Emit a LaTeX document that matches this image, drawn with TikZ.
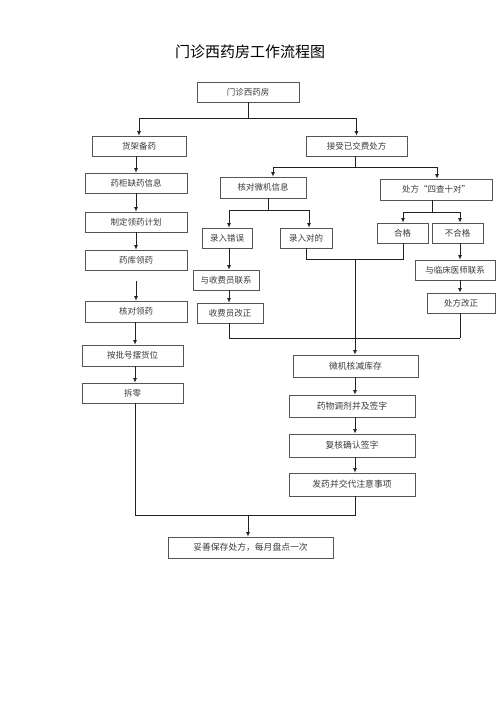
\documentclass[tikz,border=0pt]{standalone}
\usepackage{fontspec}
\setmainfont{Noto Sans CJK SC}
\usetikzlibrary{arrows.meta}
\definecolor{boxline}{HTML}{555555}
\definecolor{txt}{HTML}{3A3A3A}
\definecolor{conn}{HTML}{222222}
\tikzset{
  box/.style={draw=boxline, line width=0.8pt, fill=white, inner sep=0pt,
    minimum height=20pt, text=txt, font=\fontsize{8.5}{10}\selectfont},
  ln/.style={draw=conn, line width=0.8pt},
  arr/.style={ln, -{Latex[length=4.5pt,width=4pt]}},
}
\begin{document}
\begin{tikzpicture}[x=1pt,y=-1pt]
\useasboundingbox[fill=white] (0,0) rectangle (500,707);
\node[text=black, font=\fontsize{15}{18}\selectfont] (title) at (250,52) {门诊西药房工作流程图};

% top
\node[box, minimum width=102pt] (top) at (248,92) {门诊西药房};
\node[box, minimum width=94pt] (shelf) at (139,146) {货架备药};
\node[box, minimum width=101pt] (recv) at (356.5,146) {接受已交费处方};

% left column
\node[box, minimum width=102pt] (lack) at (136,183) {药柜缺药信息};
\node[box, minimum width=102pt] (plan) at (136,222) {制定领药计划};
\node[box, minimum width=102pt] (store) at (136,260) {药库领药};
\node[box, minimum width=102pt, minimum height=21pt] (check) at (136,311.5) {核对领药};
\node[box, minimum width=101pt, minimum height=21pt] (bat) at (132.5,355.5) {按批号摆货位};
\node[box, minimum width=101pt] (split) at (132.5,393) {拆零};

% middle branch
\node[box, minimum width=86pt, minimum height=21pt] (verify) at (263,187.5) {核对微机信息};
\node[box, minimum width=50pt] (err) at (227,238) {录入错误};
\node[box, minimum width=52pt] (ok) at (306,238) {录入对的};
\node[box, minimum width=66pt] (contactC) at (226,280) {与收费员联系};
\node[box, minimum width=66pt] (fixC) at (230,313) {收费员改正};

% right branch
\node[box, minimum width=112pt, minimum height=21pt] (four) at (436,189.5) {处方“四查十对”};
\node[box, minimum width=51pt] (pass) at (402.5,233) {合格};
\node[box, minimum width=51pt] (fail) at (457.5,233) {不合格};
\node[box, minimum width=80pt] (contactD) at (455,270) {与临床医师联系};
\node[box, minimum width=68pt] (fixD) at (461,303) {处方改正};

% lower chain
\node[box, minimum width=125pt, minimum height=22pt, font=\fontsize{8.8}{10}\selectfont] (mc) at (355.5,366) {微机核减库存};
\node[box, minimum width=126pt, minimum height=22pt, font=\fontsize{8.8}{10}\selectfont] (disp) at (352,406) {药物调剂并及签字};
\node[box, minimum width=126pt, minimum height=23pt, font=\fontsize{8.8}{10}\selectfont] (rechk) at (352,445.5) {复核确认签字};
\node[box, minimum width=126pt, minimum height=23pt, font=\fontsize{8.8}{10}\selectfont] (give) at (352,484.5) {发药并交代注意事项};
\node[box, minimum width=165pt, minimum height=21pt, font=\fontsize{8.8}{10}\selectfont] (final) at (250.5,547.5) {妥善保存处方，每月盘点一次};

% coordinates
\coordinate (j1) at (248,118);
\coordinate (mx) at (355,0);
\coordinate (lx) at (135,0);
\coordinate (j2) at (355,167);
\coordinate (j2l) at (273,167);
\coordinate (j2r) at (437,167);
\coordinate (j3) at (268,210);
\coordinate (j3l) at (229,210);
\coordinate (j3r) at (309,210);
\coordinate (j4) at (432,212);
\coordinate (j4l) at (403,212);
\coordinate (j4r) at (460,212);
\coordinate (okd) at (306,259);
\coordinate (pj) at (355,259);
\coordinate (cl) at (229,338);
\coordinate (cr) at (460,338);
\coordinate (bl) at (135,515);
\coordinate (br) at (355,515);
\coordinate (bm) at (248,515);
\coordinate (gapA) at (136,281);

% top split
\draw[ln] (top.south) -- (j1);
\draw[arr] (j1) -| (shelf.north);
\draw[arr] (j1) -| (recv.north);

% left column
\draw[arr] (shelf.south -| lack.north) -- (lack.north);
\draw[arr] (lack.south) -- (plan.north);
\draw[arr] (plan.south) -- (store.north);
\draw[arr] (gapA) -- (check.north);
\draw[arr] (lx |- check.south) -- (lx |- bat.north);
\draw[arr] (lx |- bat.south) -- (lx |- split.north);
\draw[ln] (lx |- split.south) -- (bl);

% receive split
\draw[ln] (mx |- recv.south) -- (j2);
\draw[arr] (j2) -- (j2l) -- (j2l |- verify.north);
\draw[arr] (j2) -- (j2r) -- (j2r |- four.north);

% verify split
\draw[ln] (j3 |- verify.south) -- (j3);
\draw[arr] (j3) -- (j3l) -- (j3l |- err.north);
\draw[arr] (j3) -- (j3r) -- (j3r |- ok.north);
\draw[arr] (j3l |- err.south) -- (j3l |- contactC.north);
\draw[arr] (j3l |- contactC.south) -- (j3l |- fixC.north);
\draw[ln] (cl |- fixC.south) -- (cl) -- (cr);

% four split
\draw[ln] (j4 |- four.south) -- (j4);
\draw[arr] (j4) -- (j4l) -- (j4l |- pass.north);
\draw[arr] (j4) -- (j4r) -- (j4r |- fail.north);
\draw[arr] (j4r |- fail.south) -- (j4r |- contactD.north);
\draw[arr] (j4r |- contactD.south) -- (j4r |- fixD.north);
\draw[ln] (cr |- fixD.south) -- (cr);

% pass / ok join
\draw[ln] (okd |- ok.south) -- (okd) -- (j4l |- okd) -- (j4l |- pass.south);
\draw[arr] (pj) -- (mx |- mc.north);

% lower chain
\draw[arr] (mx |- mc.south) -- (mx |- disp.north);
\draw[arr] (mx |- disp.south) -- (mx |- rechk.north);
\draw[arr] (mx |- rechk.south) -- (mx |- give.north);
\draw[ln] (mx |- give.south) -- (br) -- (bl);
\draw[arr] (bm) -- (bm |- final.north);
\end{tikzpicture}
\end{document}
